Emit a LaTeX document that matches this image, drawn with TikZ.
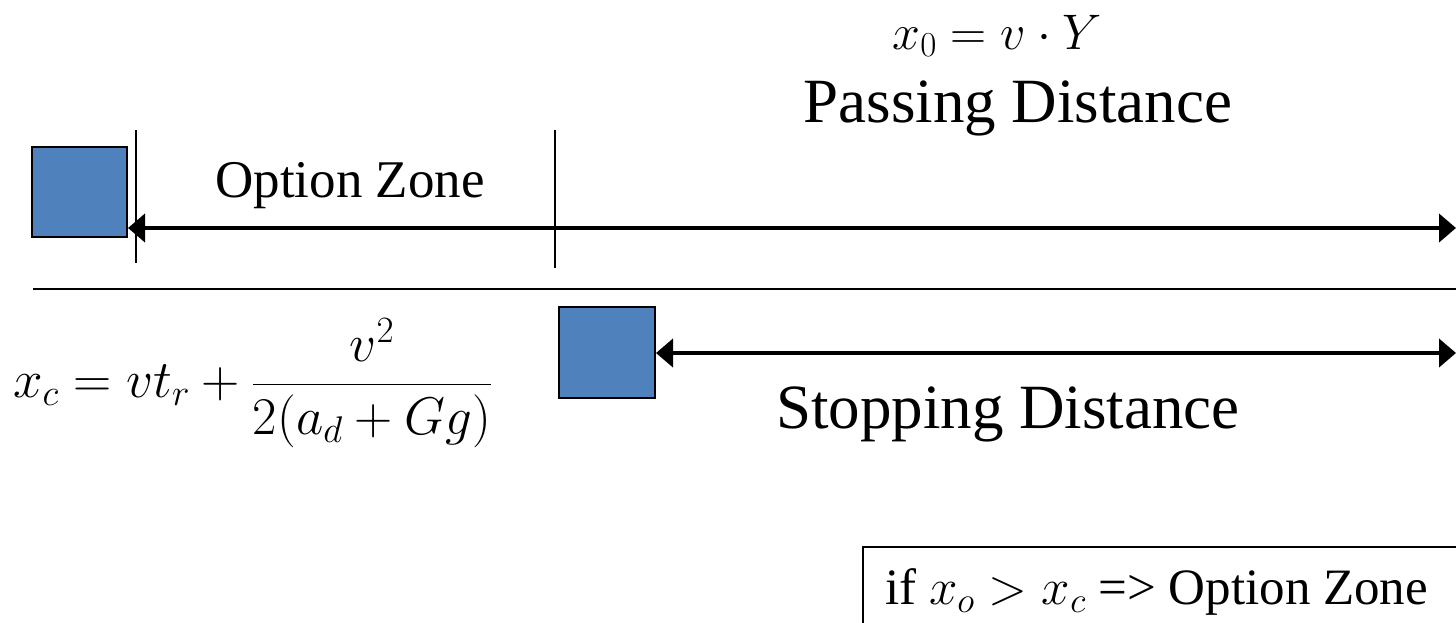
\RequirePackage{fix-cm}
\documentclass[tikz,border=0pt]{standalone}
\usepackage{fontspec}
\setmainfont{Liberation Serif}
\usetikzlibrary{arrows.meta}
\definecolor{carblue}{HTML}{4F81BD}
\tikzset{
  car/.style={draw=black, line width=2.5pt, fill=carblue},
  dimline/.style={line width=4pt, {Triangle[length=17pt,width=28pt]}-{Triangle[length=17pt,width=28pt]}},
  tick/.style={line width=1.5pt},
  sep/.style={line width=2pt},
  lbl/.style={inner sep=0pt, anchor=center},
}
\begin{document}
\begin{tikzpicture}[x=1pt,y=-1pt]
\useasboundingbox (0,0) rectangle (1456,622);
% cars
\draw[car] (32,147) rectangle (127,237);
\coordinate (car1e) at (128,228);
\draw[car] (559,307) rectangle (655,398);
\coordinate (car2e) at (656,353);
% ticks
\coordinate (t1a) at (136,130); \coordinate (t1b) at (136,263);
\coordinate (t2a) at (555,130); \coordinate (t2b) at (555,268);
\draw[tick] (t1a) -- (t1b);
\draw[tick] (t2a) -- (t2b);
% arrows
\coordinate (end1) at (1456,228);
\coordinate (end2) at (1456,353);
\draw[dimline] (car1e) -- (end1);
\draw[dimline] (car2e) -- (end2);
% separator
\coordinate (sepa) at (33,289); \coordinate (sepb) at (1456,289);
\draw[sep] (sepa) -- (sepb);
% labels
\node[lbl] (x0) at (997,36) {\fontsize{50}{56}\selectfont $x_0 = v\cdot Y$};
\node[lbl] (pd) at (1018,108) {\fontsize{63}{70}\selectfont Passing Distance};
\node[lbl] (oz) at (350,186) {\fontsize{53}{60}\selectfont Option Zone};
\node[lbl] (sd) at (1008,414) {\fontsize{63}{70}\selectfont Stopping Distance};
\node[lbl, anchor=west] (xc) at (13,383) {\fontsize{53}{60}\selectfont $\displaystyle x_c = vt_r + \frac{v^2}{2(a_d + Gg)}$};
% condition box
\draw[line width=1.5pt] (1470,547) -- (863,547) -- (863,640);
\node[lbl, anchor=west] (cond) at (885,592) {\fontsize{51}{57}\selectfont if $x_o > x_c$ => Option Zone};
\end{tikzpicture}
\end{document}
